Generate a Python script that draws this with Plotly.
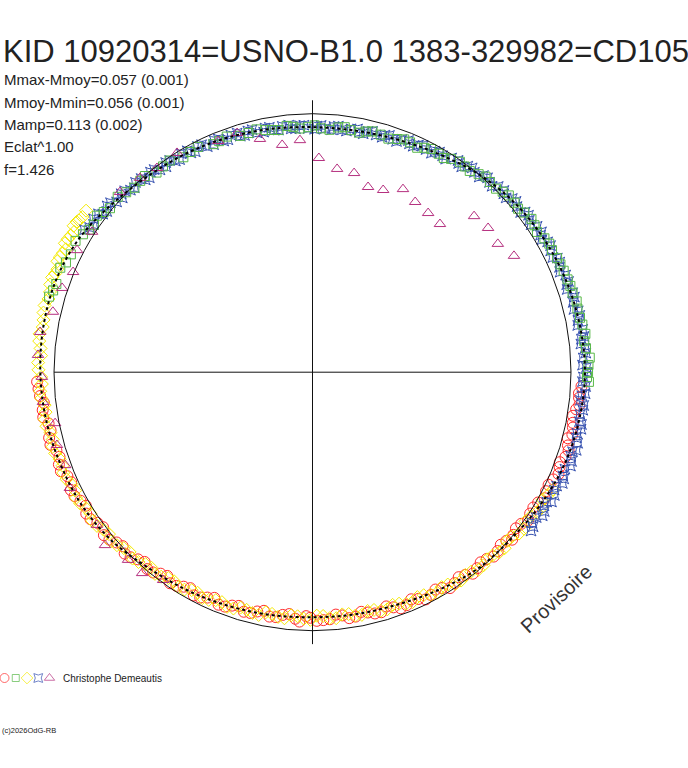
import numpy as np
import plotly.graph_objects as go

TITLE = "KID 10920314=USNO-B1.0 1383-329982=CD105"
STATS = ["Mmax-Mmoy=0.057 (0.001)", "Mmoy-Mmin=0.056 (0.001)",
         "Mamp=0.113 (0.002)", "Eclat^1.00", "f=1.426"]
OBSERVER = "Christophe Demeautis"
COPYRIGHT = "(c)2026OdG-RB"
STAMP = "Provisoire"

# phase angle (degrees, clockwise from top) and normalised radius (reference circle = 1)
red_phase = [93, 95.5, 98, 101, 103.5, 106, 108.5, 111, 114, 117, 120, 123, 126, 129, 131, 134, 137, 140, 143, 146,
             149, 152, 155, 158, 161, 164, 167, 170, 173, 176, 179, 181.5, 184, 187, 190, 193, 196, 199, 202, 205,
             208, 211, 214, 217, 220, 223, 226, 229, 232, 235, 238, 241, 244, 247, 250, 253, 256, 259, 262, 265, 268,
             94.5, 97, 99.5, 102, 104.5, 107, 110, 112.5, 115.5, 118.5, 121.5, 124.5, 127.5, 130, 132.5, 135.5,
             138.5, 141.5, 144.5, 147.5, 150.5, 153.5, 156.5, 159.5, 162.5, 165.5, 168.5, 171.5, 174.5, 177.5,
             180.5, 183, 185.5, 188.5, 191.5, 194.5, 197.5, 200.5, 203.5, 206.5, 209.5, 212.5, 215.5, 218.5,
             221.5, 224.5, 227.5, 230.5, 233.5, 236.5, 239.5, 242.5, 245.5, 248.5, 251.5, 254.5, 257.5, 260.5,
             263.5, 266.5]
red_r = [1.042, 1.036, 1.030, 1.026, 1.034, 1.028, 1.032, 1.024, 1.020, 1.014, 1.008, 1.004, 0.998, 1.000, 0.994,
         0.996, 0.988, 0.990, 0.982, 0.984, 0.974, 0.976, 0.968, 0.972, 0.962, 0.966, 0.954, 0.960, 0.948, 0.958,
         0.962, 0.944, 0.956, 0.946, 0.960, 0.950, 0.964, 0.955, 0.970, 0.962, 0.978, 0.968, 0.985, 0.976, 0.994,
         0.990, 1.010, 1.004, 1.024, 1.016, 1.032, 1.026, 1.040, 1.030, 1.044, 1.036, 1.050, 1.040, 1.054, 1.058, 1.066,
         1.034, 1.040, 1.022, 1.030, 1.020, 1.036, 1.018, 1.030, 1.012, 1.022, 1.002, 1.012, 0.992, 1.008, 0.988,
         1.000, 0.982, 0.996, 0.974, 0.990, 0.966, 0.982, 0.958, 0.975, 0.950, 0.964, 0.946, 0.962, 0.942, 0.960,
         0.950, 0.966, 0.940, 0.958, 0.942, 0.962, 0.948, 0.968, 0.952, 0.974, 0.960, 0.980, 0.968, 0.990, 0.980,
         1.004, 0.996, 1.018, 1.008, 1.030, 1.018, 1.038, 1.026, 1.046, 1.032, 1.052, 1.038, 1.056, 1.046, 1.062]

green_phase = [286, 289, 292.5, 296, 299, 302.5, 306, 309, 312, 316, 319.5, 322, 326, 329, 333, 336.5, 340, 343, 347,
               350.5, 354, 357, 0.5, 4, 7.5, 11, 14, 18, 21.5, 25, 28, 31.5, 35, 38, 41.5, 45, 48, 51.5, 55, 58,
               61.5, 65, 68, 71.5, 75, 78.5, 82, 85, 87, 90, 92,
               287.5, 294, 301, 304, 307.5, 314, 318, 324, 331, 338, 345, 349, 352, 355.5, 359, 2, 6, 9, 12.5, 16,
               20, 23, 26.5, 30, 33, 36.5, 40, 43, 46.5, 50, 53, 56.5, 60, 63, 66.5, 70, 73, 76.5, 80, 83.5, 88.5, 91]
green_r = [1.060, 1.048, 1.056, 1.040, 1.048, 1.026, 1.030, 1.008, 1.014, 0.992, 0.998, 0.980, 0.988, 0.970, 0.978,
           0.962, 0.970, 0.956, 0.964, 0.950, 0.958, 0.944, 0.955, 0.940, 0.956, 0.944, 0.960, 0.950, 0.968, 0.958,
           0.978, 0.972, 0.994, 0.988, 1.010, 1.004, 1.022, 1.016, 1.034, 1.024, 1.042, 1.044, 1.048, 1.052, 1.058,
           1.056, 1.066, 1.062, 1.074, 1.066, 1.070,
           1.052, 1.044, 1.036, 1.020, 1.018, 1.002, 0.996, 0.984, 0.974, 0.964, 0.958, 0.954, 0.946, 0.952, 0.948,
           0.944, 0.952, 0.948, 0.954, 0.956, 0.960, 0.966, 0.970, 0.976, 0.984, 0.990, 1.000, 1.006, 1.014, 1.020,
           1.026, 1.030, 1.036, 1.040, 1.046, 1.050, 1.052, 1.054, 1.060, 1.058, 1.068, 1.062]

yellow_phase = [116, 119, 122, 125, 128, 131, 134, 137, 140, 143, 146, 149, 152, 155, 158, 161, 164, 167, 170, 173,
                176, 179, 182, 185, 188, 191, 194, 197, 200, 203, 206, 209, 212, 215, 218, 221, 224, 227, 230, 233,
                236, 239, 242, 245, 248, 251, 254, 257, 260, 263, 266, 269, 272, 275, 278, 281, 284, 287, 290, 292,
                294.5, 296.5, 298.5, 300.5, 302.5, 304,
                117.5, 120.5, 123.5, 126.5, 129.5, 132.5, 135.5, 138.5, 141.5, 144.5, 147.5, 150.5, 153.5, 156.5,
                159.5, 162.5, 165.5, 168.5, 171.5, 174.5, 177.5, 180.5, 183.5, 186.5, 189.5, 192.5, 195.5, 198.5,
                201.5, 204.5, 207.5, 210.5, 213.5, 216.5, 219.5, 222.5, 225.5, 228.5, 231.5, 234.5, 237.5, 240.5,
                243.5, 246.5, 249.5, 252.5, 255.5, 258.5, 261.5, 264.5, 267.5, 270.5, 273.5, 276.5, 279.5, 282.5,
                285.5, 288.5, 291, 293.5, 295.5, 297.5, 299.5, 301.5, 303, 305.5]
yellow_r = [1.036, 1.018, 1.024, 1.006, 1.014, 0.996, 1.004, 0.990, 0.998, 0.982, 0.988, 0.970, 0.976, 0.960, 0.966,
            0.952, 0.960, 0.948, 0.956, 0.944, 0.954, 0.942, 0.954, 0.944, 0.956, 0.946, 0.960, 0.952, 0.966, 0.958,
            0.972, 0.964, 0.980, 0.972, 0.990, 0.984, 1.002, 0.998, 1.018, 1.012, 1.028, 1.022, 1.036, 1.028, 1.040,
            1.034, 1.046, 1.040, 1.052, 1.044, 1.056, 1.050, 1.062, 1.056, 1.066, 1.060, 1.068, 1.062, 1.072, 1.064,
            1.074, 1.066, 1.078, 1.070, 1.082, 1.074,
            1.028, 1.030, 1.012, 1.018, 1.000, 1.008, 0.994, 0.998, 0.986, 0.990, 0.974, 0.980, 0.964, 0.970, 0.956,
            0.962, 0.950, 0.958, 0.946, 0.956, 0.944, 0.958, 0.946, 0.958, 0.948, 0.962, 0.954, 0.964, 0.956, 0.968,
            0.962, 0.976, 0.970, 0.984, 0.980, 0.996, 0.992, 1.010, 1.006, 1.024, 1.018, 1.032, 1.026, 1.038, 1.032,
            1.044, 1.038, 1.050, 1.044, 1.054, 1.048, 1.060, 1.052, 1.064, 1.058, 1.066, 1.060, 1.070, 1.066, 1.076,
            1.070, 1.080, 1.074, 1.084, 1.078, 1.076]

blue_phase = [302, 304, 306.5, 308, 310, 312.5, 314, 316, 318.5, 320, 322, 324.5, 326, 328, 330.5, 332, 334, 336.5,
              338, 340, 342.5, 344, 346, 348.5, 350, 352, 354.5, 356, 358, 0.5, 2, 4.5, 6, 8, 10.5, 12, 14, 16.5, 18,
              20, 22.5, 24, 26, 28.5, 30, 32, 34.5, 36, 38, 40.5, 42, 44, 46.5, 48, 50, 52.5, 54, 56, 58.5, 60, 62,
              64.5, 66, 68, 70.5, 72, 74, 76.5, 78, 80, 82.5, 84, 86, 88.5, 90, 92, 94.5, 96, 98, 100.5, 102, 104,
              106.5, 108, 110, 112.5, 114, 116, 118.5, 120, 122, 124.5, 126,
              303, 305, 307, 309, 311, 313, 315, 317, 319, 321, 323, 325, 327, 329, 331, 333, 335, 337, 339, 341,
              343, 345, 347, 349, 351, 353, 355, 357, 359, 1, 3, 5, 7, 9, 11, 13, 15, 17, 19, 21, 23, 25, 27, 29,
              31, 33, 35, 37, 39, 41, 43, 45, 47, 49, 51, 53, 55, 57, 59, 61, 63, 65, 67, 69, 71, 73, 75, 77, 79,
              81, 83, 85, 87, 89, 91, 93, 95, 97, 99, 101, 103, 105, 107, 109, 111, 113, 115, 117, 119, 121, 123, 125]
blue_r = [1.040, 1.022, 1.030, 1.010, 1.020, 0.998, 1.010, 0.992, 1.000, 0.982, 0.995, 0.976, 0.988, 0.970, 0.984,
          0.966, 0.979, 0.960, 0.973, 0.957, 0.970, 0.953, 0.967, 0.948, 0.962, 0.946, 0.960, 0.944, 0.956, 0.940,
          0.955, 0.941, 0.957, 0.942, 0.957, 0.943, 0.960, 0.948, 0.963, 0.950, 0.970, 0.957, 0.976, 0.964, 0.983,
          0.972, 0.994, 0.982, 1.003, 0.993, 1.012, 1.000, 1.021, 1.008, 1.028, 1.015, 1.033, 1.020, 1.039, 1.025,
          1.043, 1.030, 1.047, 1.033, 1.051, 1.036, 1.054, 1.040, 1.057, 1.042, 1.059, 1.044, 1.060, 1.045, 1.062,
          1.045, 1.058, 1.042, 1.056, 1.050, 1.062, 1.052, 1.064, 1.050, 1.062, 1.048, 1.058, 1.040, 1.052, 1.034,
          1.048, 1.030, 1.045,
          1.028, 1.034, 1.016, 1.022, 1.004, 1.012, 0.996, 1.004, 0.986, 0.996, 0.980, 0.990, 0.974, 0.986, 0.970,
          0.980, 0.963, 0.974, 0.958, 0.970, 0.955, 0.966, 0.950, 0.962, 0.948, 0.958, 0.945, 0.955, 0.943,
          0.952, 0.944, 0.954, 0.945, 0.953, 0.946, 0.956, 0.950, 0.959, 0.953, 0.964, 0.960, 0.970, 0.967, 0.978,
          0.977, 0.988, 0.986, 0.998, 0.995, 1.008, 1.004, 1.016, 1.012, 1.024, 1.018, 1.030, 1.024, 1.036, 1.029,
          1.040, 1.034, 1.045, 1.038, 1.049, 1.040, 1.052, 1.044, 1.055, 1.046, 1.058, 1.048, 1.058, 1.049, 1.060,
          1.048, 1.058, 1.046, 1.057, 1.048, 1.060, 1.050, 1.062, 1.052, 1.060, 1.046, 1.056, 1.042, 1.050, 1.036,
          1.046, 1.032, 1.042]

magenta_phase = [215.7, 220.3, 224.5, 230.2, 234.7, 244.5, 249.4, 254.1, 258.8, 263.7, 269, 273.6, 278.4, 283.1,
                 288.6, 292.7, 297.4, 302.5, 313.1, 318.4, 322.7, 328.3, 337.8, 342.5, 347.3, 352.4, 356.9, 1.7, 6.9,
                 11.8, 16.7, 21.2, 26.3, 31.1, 36, 40.7, 46, 50.6, 55.3, 60]
magenta_r = [0.990, 1.019, 1.018, 1.045, 1.022, 1.040, 1.022, 1.028, 1.015, 1.049, 1.047, 1.064, 1.065, 1.031, 1.022,
             1.004, 1.026, 1.011, 1.020, 1.005, 0.993, 0.997, 0.966, 0.970, 0.925, 0.887, 0.899, 0.829, 0.792, 0.787,
             0.748, 0.756, 0.790, 0.769, 0.761, 0.756, 0.869, 0.879, 0.872, 0.900]

fit_phase = [0, 10, 20, 30, 40, 50, 60, 70, 80, 90, 100, 110, 120, 130, 140, 150, 160, 170, 180, 190, 200, 210, 220,
             230, 240, 250, 260, 270, 280, 290, 300, 310, 320, 330, 340, 350, 360]
fit_r = [0.948, 0.949, 0.958, 0.975, 1.000, 1.020, 1.033, 1.043, 1.050, 1.054, 1.048, 1.038, 1.020, 1.003, 0.993,
         0.973, 0.957, 0.951, 0.948, 0.953, 0.961, 0.973, 0.988, 1.014, 1.030, 1.038, 1.047, 1.053, 1.056, 1.054,
         1.040, 1.012, 0.990, 0.977, 0.965, 0.955, 0.948]

REF_R = 1.0
AXIS_V = 1.052

W, H = 688, 768
CX, CY, SCALE = 312.5, 372.2, 258.5


def to_xy(phase, r):
    t = np.deg2rad(np.asarray(phase, dtype=float))
    r = np.asarray(r, dtype=float)
    return r * np.sin(t), r * np.cos(t)


def px(x):
    return x / W


def py(y):
    return 1 - y / H


RED = ("circle-open", 11, "#ff2b2b")
GREEN = ("square-open", 9, "#58b848")
YELLOW = ("diamond-open", 10, "#f4ea00")
BLUE = ("star-square-open", 9, "#3651b0")
MAGENTA = ("triangle-up-open", 10, "#b5307f")

draw_order = [
    (red_phase, red_r, RED),
    (yellow_phase, yellow_r, YELLOW),
    (blue_phase, blue_r, BLUE),
    (green_phase, green_r, GREEN),
    (magenta_phase, magenta_r, MAGENTA),
]

fig = go.Figure()
for ph, rr, (sym, size, col) in draw_order:
    x, y = to_xy(ph, rr)
    fig.add_trace(go.Scatter(x=x, y=y, mode="markers", hoverinfo="skip",
                             marker=dict(symbol=sym, size=size, color=col, line=dict(width=1, color=col))))

fx, fy = to_xy(fit_phase, fit_r)
fig.add_trace(go.Scatter(x=fx, y=fy, mode="lines", hoverinfo="skip",
                         line=dict(color="black", width=2, dash="dot", shape="spline")))

# legend glyphs row
legend_items = [RED, GREEN, YELLOW, BLUE, MAGENTA]
fig.add_trace(go.Scatter(x=[0, 1, 2, 3, 4], y=[0, 0, 0, 0, 0], xaxis="x2", yaxis="y2", mode="markers",
                         hoverinfo="skip",
                         marker=dict(symbol=[s[0] for s in legend_items], size=[9, 7, 9, 8, 9],
                                     color=[s[2] for s in legend_items],
                                     line=dict(width=1, color=[s[2] for s in legend_items]))))

shapes = [
    dict(type="circle", xref="x", yref="y", x0=-REF_R, y0=-REF_R, x1=REF_R, y1=REF_R,
         line=dict(color="#111111", width=1)),
    dict(type="line", xref="x", yref="y", x0=-REF_R, y0=0, x1=REF_R, y1=0, line=dict(color="#111111", width=1)),
    dict(type="line", xref="x", yref="y", x0=0, y0=-AXIS_V, x1=0, y1=AXIS_V, line=dict(color="#111111", width=1)),
]

FONT = "Liberation Sans, Arial, sans-serif"
ann = [dict(x=px(1), y=py(51), xref="paper", yref="paper", xanchor="left", yanchor="middle", showarrow=False,
            text=TITLE, font=dict(family=FONT, size=31, color="#222222"))]
for i, s in enumerate(STATS):
    ann.append(dict(x=px(2), y=py(80 + i * 22.3), xref="paper", yref="paper", xanchor="left", yanchor="middle",
                    showarrow=False, text=s, font=dict(family=FONT, size=15, color="#222222")))
ann.append(dict(x=px(61), y=py(678), xref="paper", yref="paper", xanchor="left", yanchor="middle", showarrow=False,
                text=OBSERVER, font=dict(family=FONT, size=10, color="#222222")))
ann.append(dict(x=px(0), y=py(730), xref="paper", yref="paper", xanchor="left", yanchor="middle", showarrow=False,
                text=COPYRIGHT, font=dict(family=FONT, size=7.5, color="#222222")))
ann.append(dict(x=px(556), y=py(599), xref="paper", yref="paper", xanchor="center", yanchor="middle",
                showarrow=False, textangle=-43, text=STAMP, font=dict(family=FONT, size=20, color="#333333")))

x0 = (0 - CX) / SCALE
x1 = (W - CX) / SCALE
y0 = (CY - H) / SCALE
y1 = CY / SCALE

fig.update_layout(
    width=W, height=H, margin=dict(l=0, r=0, t=0, b=0),
    paper_bgcolor="white", plot_bgcolor="white", showlegend=False,
    xaxis=dict(range=[x0, x1], visible=False, fixedrange=True),
    yaxis=dict(range=[y0, y1], visible=False, fixedrange=True),
    xaxis2=dict(domain=[0, 0.1], range=[-0.4, 5.716], visible=False, fixedrange=True, anchor="y2"),
    yaxis2=dict(domain=[py(690), py(666)], range=[-1, 1], visible=False, fixedrange=True, anchor="x2"),
    shapes=shapes, annotations=ann,
)

fig.write_html("out.html", config={"displayModeBar": False},
               post_script="document.body.style.margin='0px';")
